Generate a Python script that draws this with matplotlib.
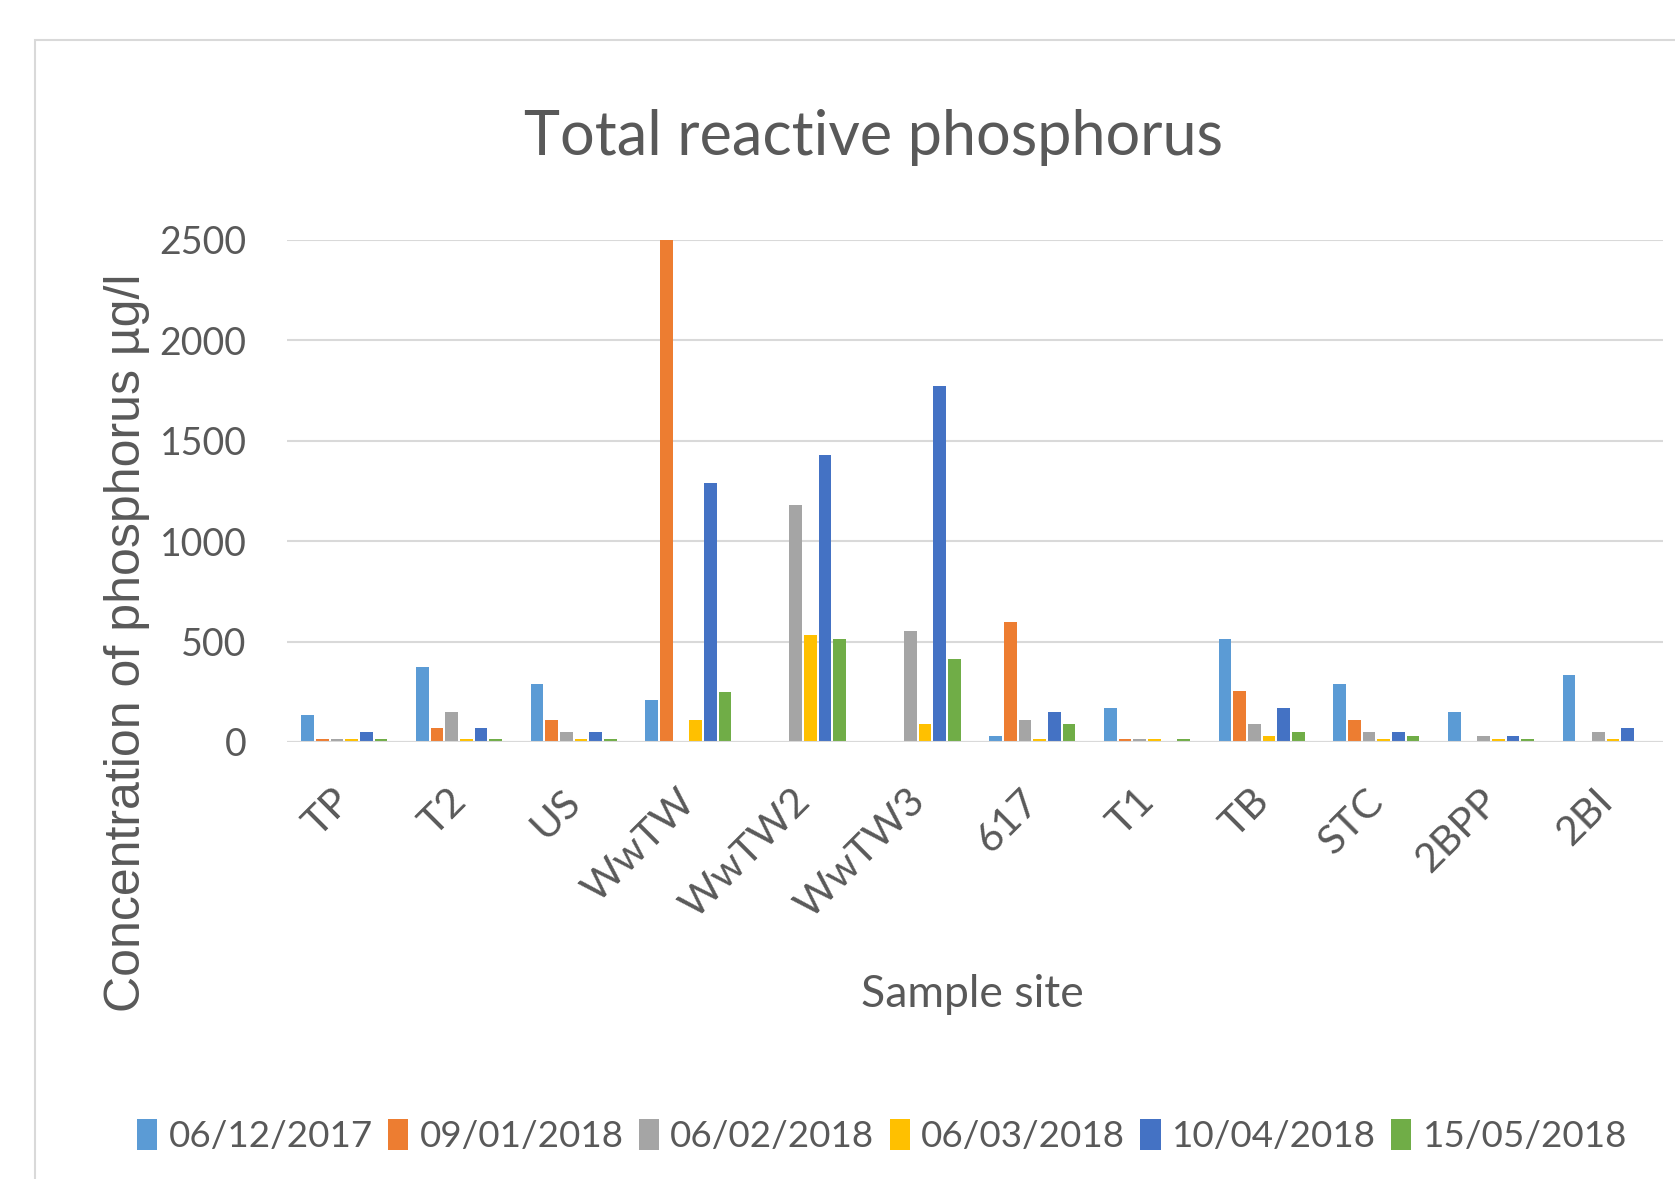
import numpy as np
import matplotlib
matplotlib.use('Agg')
from matplotlib import pyplot as plt
from matplotlib import transforms
from matplotlib.patches import Patch, Rectangle

# sample sites and sampling dates
sites = ['TP', 'T2', 'US', 'WwTW', 'WwTW2', 'WwTW3', '617', 'T1', 'TB', 'STC', '2BPP', '2BI']
dates = ['06/12/2017', '09/01/2018', '06/02/2018', '06/03/2018', '10/04/2018', '15/05/2018']

nan = np.nan
# concentration of phosphorus (ug/l), one list per sampling date
d_06_12_2017 = [135, 375, 290, 210, nan, nan, 30, 170, 515, 290, 150, 335]
d_09_01_2018 = [15, 70, 110, 2500, nan, nan, 600, 15, 253, 110, nan, nan]
d_06_02_2018 = [15, 150, 50, nan, 1180, 555, 110, 15, 90, 50, 30, 50]
d_06_03_2018 = [15, 15, 15, 110, 535, 90, 15, 15, 30, 15, 15, 15]
d_10_04_2018 = [50, 70, 50, 1290, 1430, 1775, 150, nan, 170, 50, 30, 70]
d_15_05_2018 = [15, 15, 15, 250, 515, 412, 90, 15, 50, 30, 15, nan]
series = [d_06_12_2017, d_09_01_2018, d_06_02_2018, d_06_03_2018, d_10_04_2018, d_15_05_2018]

colors = ['#5B9BD5', '#ED7D31', '#A5A5A5', '#FFC000', '#4472C4', '#70AD47']
txt = '#595959'
grid = '#D9D9D9'
plt.rcParams['font.family'] = ['Lato', 'DejaVu Sans']

W, H = 1675, 1179
fig = plt.figure(figsize=(W / 100, H / 100), dpi=100)

# chart border (runs off the right and bottom edge)
fig.patches.append(Rectangle((35 / W, -0.1), 1.2, 1 - 40 / H + 0.1, transform=fig.transFigure,
                             fill=False, edgecolor=grid, linewidth=1.5))

ax = fig.add_axes([287 / W, 1 - 742 / H, (1663 - 287) / W, (742 - 240) / H])

x = np.arange(len(sites))
slot = 0.128
for i, (vals, c) in enumerate(zip(series, colors)):
    ax.bar(x + (i - 2.5) * slot, vals, width=0.11, color=c, linewidth=0,
           label=dates[i], zorder=3)

ax.set_xlim(-0.5, len(sites) - 0.5)
ax.set_ylim(0, 2500)
ax.set_yticks(np.arange(0, 2501, 500))
ax.grid(axis='y', color=grid, linewidth=1.5, zorder=0)
ax.axhline(0, color=grid, linewidth=1.5, zorder=4)
for s in ax.spines.values():
    s.set_visible(False)
ax.tick_params(axis='both', length=0, colors=txt)
ax.tick_params(axis='y', labelsize=27, pad=29)
ax.set_xticks(x)
ax.set_xticklabels(sites, rotation=45, ha='right', va='top', fontsize=29.5)
ax.tick_params(axis='x', pad=29)
# nudge rotated labels a little to the right, as in the original
shift = transforms.ScaledTranslation(14 / 100, 0, fig.dpi_scale_trans)
for lab in ax.get_xticklabels():
    lab.set_transform(lab.get_transform() + shift)

fig.text(873 / W, 1 - 155 / H, 'Total reactive phosphorus', ha='center', va='baseline',
         fontsize=44, color=txt)
fig.text(972 / W, 1 - 1007 / H, 'Sample site', ha='center', va='baseline',
         fontsize=32, color=txt)
fig.text(127 / W, 1 - 643 / H, 'Concentration of phosphorus \u00b5g/l', rotation=90,
         ha='center', va='center', fontsize=36, color=txt,
         family=['Liberation Sans', 'DejaVu Sans'])

handles = [Patch(facecolor=c) for c in colors]
leg = fig.legend(handles, dates, loc='center', bbox_to_anchor=(882 / W, 1 - 1136 / H), ncol=6,
                 frameon=False, fontsize=26.5, handlelength=0.55, handleheight=0.9,
                 handletextpad=0.3, columnspacing=0.42, borderpad=0, borderaxespad=0)
for t in leg.get_texts():
    t.set_color(txt)

fig.savefig('out.png', dpi=100, facecolor='white')
